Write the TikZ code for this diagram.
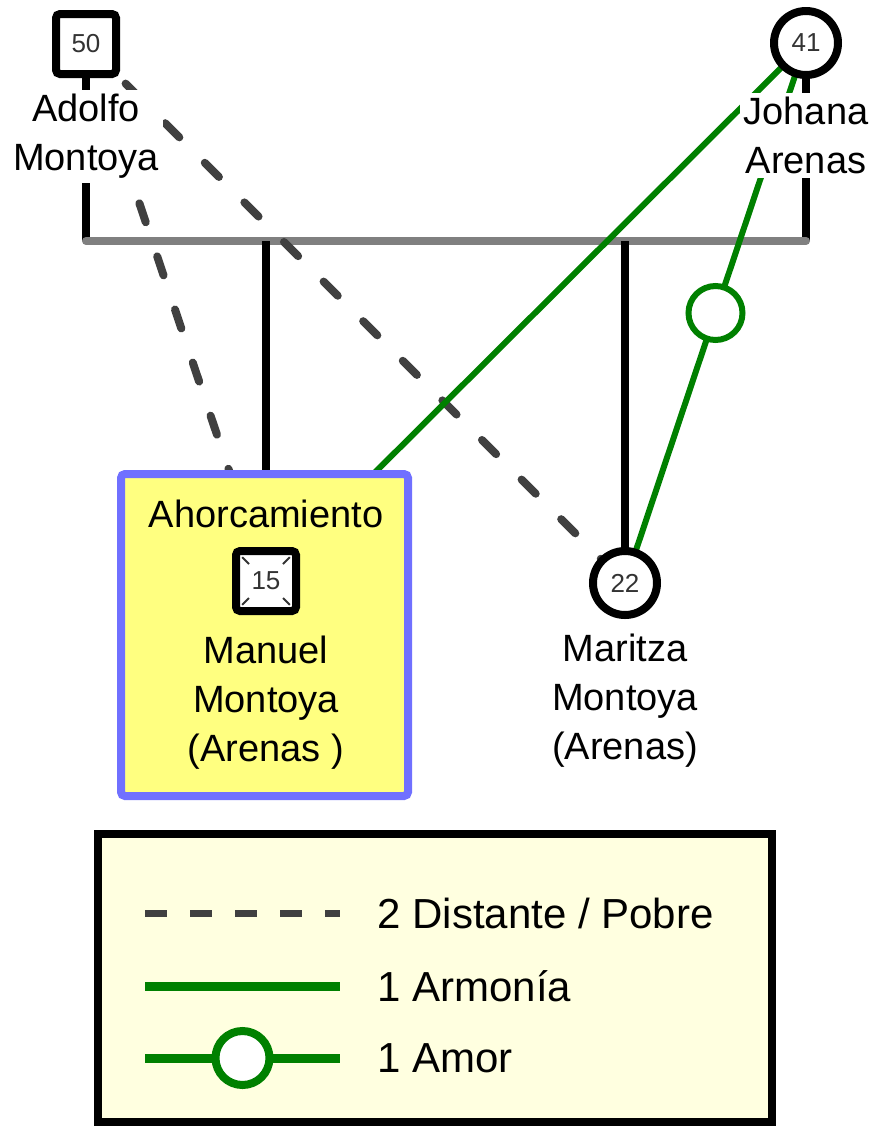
\documentclass[tikz,border=0pt]{standalone}
\usepackage{fontspec}
\setmainfont{Liberation Sans}
\usetikzlibrary{positioning,backgrounds,calc}
\definecolor{relgreen}{RGB}{0,128,0}
\definecolor{distgray}{RGB}{64,64,64}
\definecolor{bargray}{RGB}{128,128,128}
\definecolor{boxyellow}{RGB}{255,255,128}
\definecolor{boxblue}{RGB}{112,112,255}
\definecolor{legyellow}{RGB}{255,255,224}

\begin{document}
\begin{tikzpicture}[
			x=0.5pt, y=-0.5pt,
			every node/.style={font=\fontsize{19}{24.5}\selectfont},
			male/.style={rectangle, draw=black, line width=4pt, fill=white, rounded corners=2pt, minimum size=30pt, inner sep=0pt, font=\fontsize{13}{14}\selectfont\color{black!80}},
			female/.style={circle, draw=black, line width=4pt, fill=white, minimum size=32pt, inner sep=0pt, font=\fontsize{13}{14}\selectfont\color{black!80}},
			persname/.style={align=center, fill=white, inner sep=2pt},
			casebox/.style={rectangle, draw=boxblue, line width=4pt, fill=boxyellow, rounded corners=2pt, minimum width=143.5pt, minimum height=161pt},
			famline/.style={draw=black, line width=4pt},
			parbar/.style={draw=bargray, line width=4pt, line cap=round},
			distant/.style={draw=distgray, line width=4pt, line cap=round, dash pattern=on 10pt off 18pt},
			harmony/.style={draw=relgreen, line width=3pt},
			lovering/.style={circle, draw=relgreen, line width=3pt, fill=white, minimum size=27pt, inner sep=0pt},
			legbox/.style={rectangle, draw=black, line width=4pt, fill=legyellow, minimum width=337pt, minimum height=144pt},
			legtext/.style={anchor=west, inner sep=0pt, font=\fontsize{21}{25}\selectfont},
			legdash/.style={draw=distgray, line width=3.5pt, dash pattern=on 11pt off 11.5pt},
			legharm/.style={draw=relgreen, line width=4.5pt}
			]
			
			\useasboundingbox (0,0) rectangle (874,1126);
			
			\node (adolfo) at (86,44) [male] {50};
			\node (adolfoname) [below=6pt of adolfo, persname] {Adolfo\\Montoya};
			
			\node (johana) at (806,43) [female] {41};
			\node (johananame) [below=7pt of johana, persname] {Johana\\Arenas};
			
			\node (mbox) at (264.5,635) [casebox] {};
			\node (mansym) at (266,581) [male] {15};
			\foreach \c in {north west, north east, south east, south west}
				\draw [line width=1pt, black!80] ($(mansym.\c)!0.3!(mansym.center)$) -- ($(mansym.\c)!0.5!(mansym.center)$);
			\node (cause) [above=7.5pt of mansym, persname, fill=boxyellow] {Ahorcamiento};
			\node (manname) [below=8.5pt of mansym, persname, fill=boxyellow] {Manuel\\Montoya\\(Arenas )};
			
			\node (maritza) at (625,583) [female] {22};
			\node (mariname) [below=5.5pt of maritza, persname] {Maritza\\Montoya\\(Arenas)};
			
			\begin{scope}[on background layer]
				\coordinate (barL) at (86,241);
				\coordinate (barR) at (806,241);
				\draw [famline] (adolfo) -- (barL);
				\draw [famline] (johana) -- (barR);
				\draw [parbar] (barL) -- (barR);
				\draw [famline] (mansym |- barL) -- (mansym);
				\draw [famline] (maritza |- barL) -- (maritza);
				\draw [distant] (adolfo.center) -- (mansym.center);
				\draw [distant] (adolfo.center) -- (maritza.center);
				\draw [harmony] (johana.center) -- (mansym.center);
				\draw [harmony] (johana.center) -- node [lovering] {} (maritza.center);
			\end{scope}
			
			\node (legend) at (435,978) [legbox] {};
			\node (ldist) at (377,913) [legtext] {2 Distante / Pobre};
			\node (lharm) at (377,986) [legtext] {1 Armonía};
			\node (llove) at (377,1058) [legtext] {1 Amor};
			\coordinate (ld1) at (145,913);
			\coordinate (ld2) at (340,913);
			\coordinate (lh1) at (145,986);
			\coordinate (lh2) at (340,986);
			\coordinate (ll1) at (145,1058);
			\coordinate (ll2) at (340,1058);
			\draw [legdash] (ld1) -- (ld2);
			\draw [legharm] (lh1) -- (lh2);
			\draw [legharm] (ll1) -- node [lovering, line width=4pt] {} (ll2);
\end{tikzpicture}
\end{document}
